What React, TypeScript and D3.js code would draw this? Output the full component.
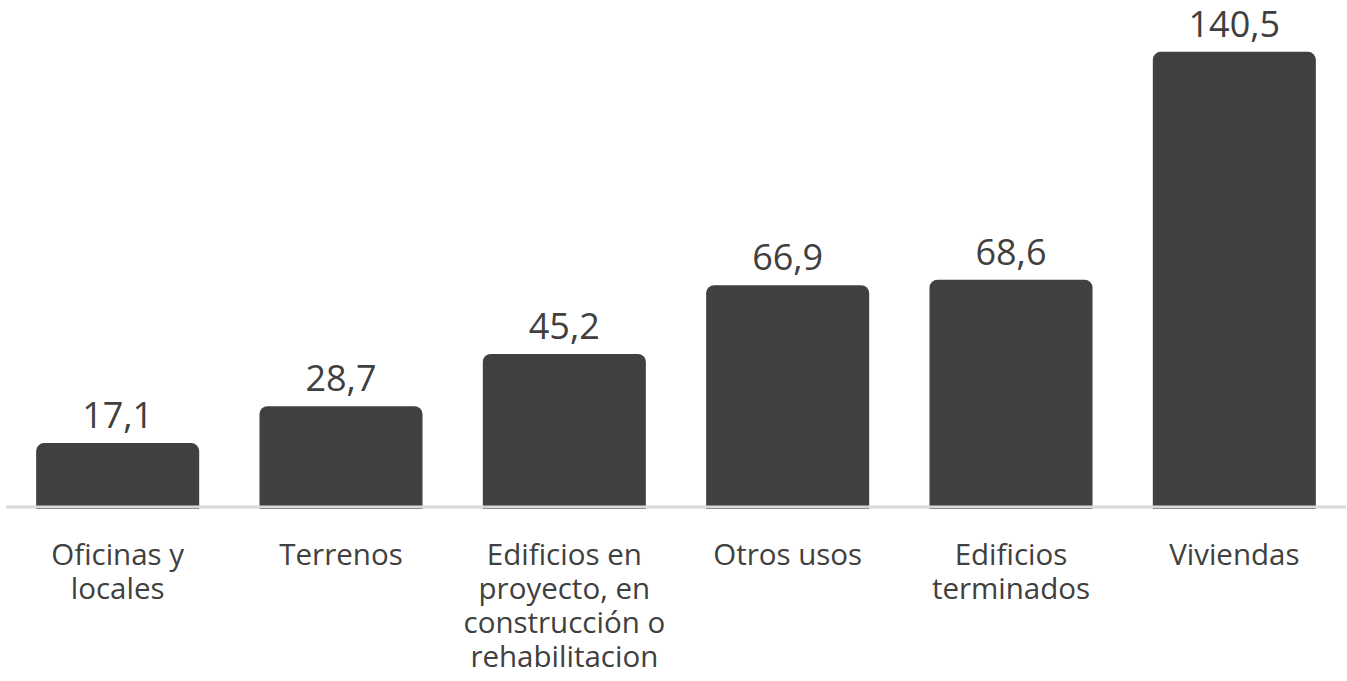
import React from "react";
import * as d3 from "d3";

const categories: string[][] = [
  ["Oficinas y", "locales"],
  ["Terrenos"],
  ["Edificios en", "proyecto, en", "construcción o", "rehabilitacion"],
  ["Otros usos"],
  ["Edificios", "terminados"],
  ["Viviendas"],
];
const values: number[] = [17.1, 28.7, 45.2, 66.9, 68.6, 140.5];
const valueLabels: string[] = ["17,1", "28,7", "45,2", "66,9", "68,6", "140,5"];

const W = 1347;
const H = 681;
const FONT = "'Open Sans', 'DejaVu Sans', sans-serif";

export default function App() {
  const x = d3
    .scaleBand<number>()
    .domain(values.map((_, i) => i))
    .range([6, 1346])
    .paddingInner(0.27)
    .paddingOuter(0.135);
  const y = d3.scaleLinear().domain([-3.7, 140.5]).range([509, 51.8]);
  const base = y(-3.7);
  const r = 8;

  const barPath = (x0: number, w: number, top: number) => {
    const p = d3.path();
    p.moveTo(x0, base);
    p.lineTo(x0, top + r);
    p.arcTo(x0, top, x0 + r, top, r);
    p.lineTo(x0 + w - r, top);
    p.arcTo(x0 + w, top, x0 + w, top + r, r);
    p.lineTo(x0 + w, base);
    p.closePath();
    return p.toString();
  };

  return (
    <svg
      width={W}
      height={H}
      style={{ position: "absolute", left: 0, top: 0, background: "#fff" }}
    >
      {values.map((v, i) => {
        const x0 = x(i)!;
        const w = x.bandwidth();
        return (
          <g key={i}>
            <path d={barPath(x0, w, y(v))} fill="#404040" />
            <text
              x={x0 + w / 2}
              y={y(v) - 15}
              textAnchor="middle"
              fontFamily={FONT}
              fontSize={36}
              fill="#404040"
            >
              {valueLabels[i]}
            </text>
          </g>
        );
      })}
      <line x1={6} x2={1346} y1={507} y2={507} stroke="#d9d9d9" strokeWidth={3} />
      {categories.map((lines, i) => (
        <text
          key={i}
          x={x(i)! + x.bandwidth() / 2}
          y={565}
          textAnchor="middle"
          fontFamily={FONT}
          fontSize={29.5}
          fill="#404040"
        >
          {lines.map((l, j) => (
            <tspan key={j} x={x(i)! + x.bandwidth() / 2} dy={j === 0 ? 0 : 34}>
              {l}
            </tspan>
          ))}
        </text>
      ))}
    </svg>
  );
}
